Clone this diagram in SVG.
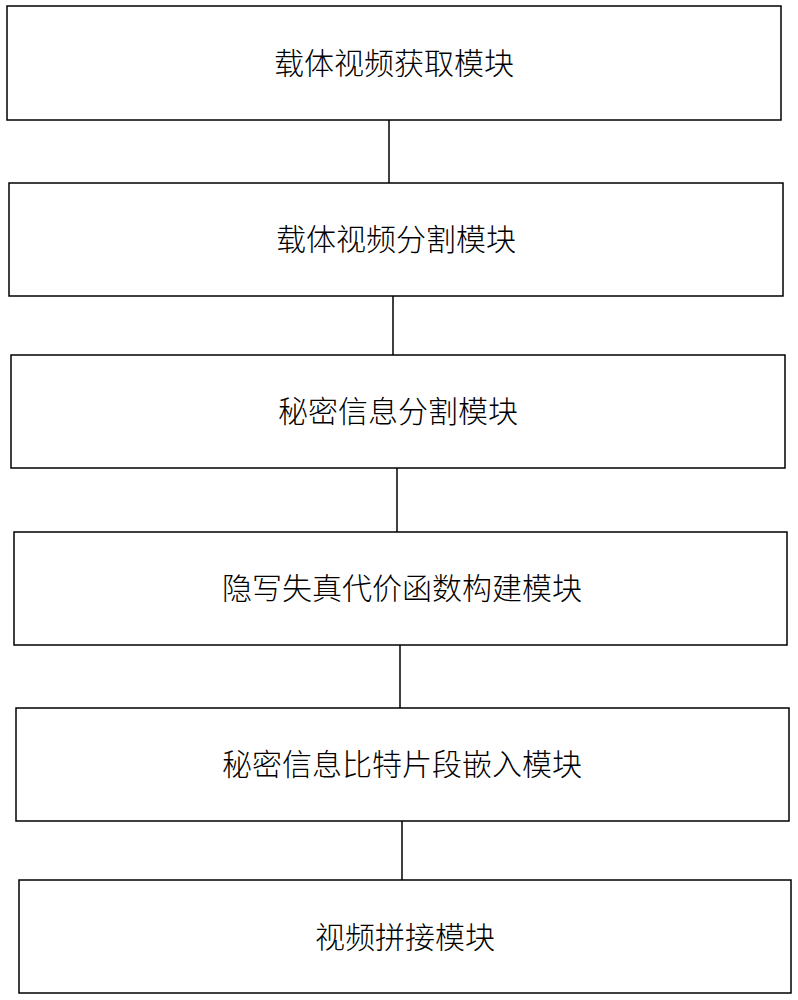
<svg xmlns="http://www.w3.org/2000/svg" width="798" height="1000" viewBox="0 0 798 1000">
<style>
rect{fill:#fff;stroke:#000;stroke-width:1.5}
line{stroke:#000;stroke-width:1.5}
text{font-family:"Liberation Serif","Noto Sans CJK SC",serif;font-size:30px;font-weight:300;text-anchor:middle;dominant-baseline:central;fill:#000}
</style>
<rect x="0" y="0" width="798" height="1000" style="stroke:none"/>
<g id="connectors">
<line x1="389" y1="120" x2="389" y2="183"/>
<line x1="393" y1="296" x2="393" y2="355"/>
<line x1="397" y1="468" x2="397" y2="532"/>
<line x1="400" y1="645" x2="400" y2="708"/>
<line x1="402" y1="821" x2="402" y2="880"/>
</g>
<g id="n1"><rect x="7" y="6" width="774" height="114"/><text x="394" y="63">载体视频获取模块</text></g>
<g id="n2"><rect x="9" y="183" width="774" height="113"/><text x="396" y="239">载体视频分割模块</text></g>
<g id="n3"><rect x="11" y="355" width="774" height="113"/><text x="398" y="411">秘密信息分割模块</text></g>
<g id="n4"><rect x="14" y="532" width="773" height="113"/><text x="402" y="588">隐写失真代价函数构建模块</text></g>
<g id="n5"><rect x="16" y="708" width="773" height="113"/><text x="402" y="764">秘密信息比特片段嵌入模块</text></g>
<g id="n6"><rect x="19" y="880" width="772" height="113"/><text x="405" y="937">视频拼接模块</text></g>
</svg>
